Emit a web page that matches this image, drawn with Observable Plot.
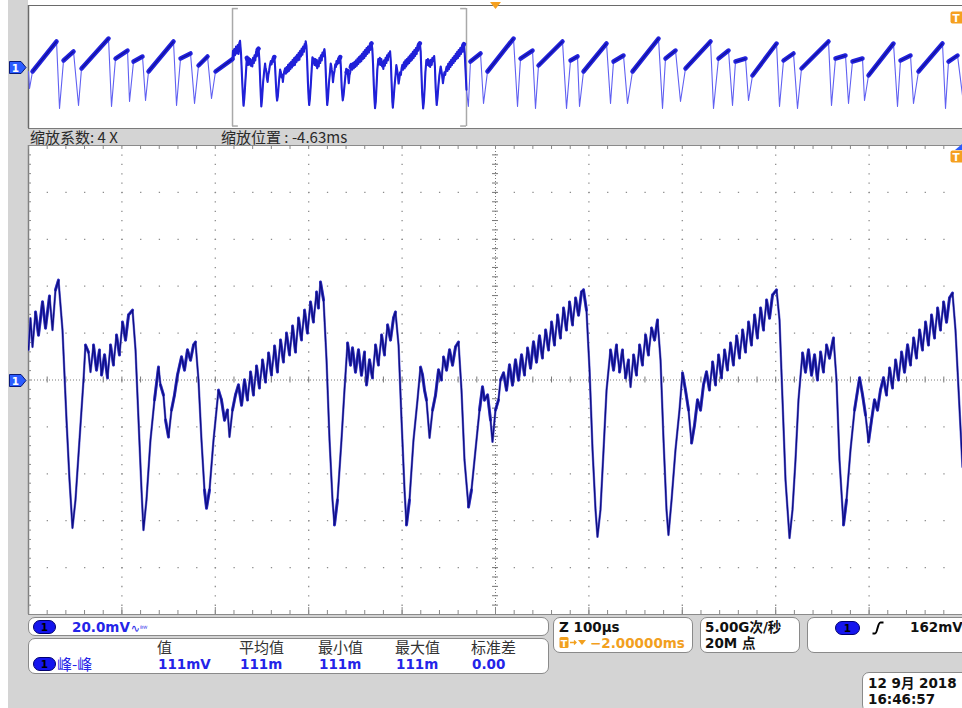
<!DOCTYPE html>
<html><head><meta charset="utf-8">
<script src="https://cdn.jsdelivr.net/npm/d3@7"></script>
<script src="https://cdn.jsdelivr.net/npm/@observablehq/plot@0.6"></script>
<style>
body{margin:0;background:#fff;}
#scr{position:relative;width:962px;height:708px;overflow:hidden;background:#fff;font-family:"DejaVu Sans","Noto Sans CJK SC",sans-serif;}
.abs{position:absolute;}
.panel{position:absolute;background:#fff;border:1px solid #8a8a8a;border-radius:7px;box-sizing:border-box;}
.t{position:absolute;white-space:nowrap;font-size:13.5px;font-weight:bold;line-height:15px;color:#111;}
.blue{color:#2424e8;}
.org{color:#f2a01e;}
.cjk{font-family:"Noto Sans CJK SC",sans-serif;font-weight:normal;font-size:15px;line-height:16px;color:#333;}
.pill{position:absolute;width:21px;height:12px;border-radius:7px;background:#1515ee;border:1px solid #000070;color:#000;font-size:10.5px;font-weight:bold;text-align:center;line-height:12px;font-family:"DejaVu Sans",sans-serif;}
</style></head>
<body><div id="scr">
<div class="abs" style="left:8px;top:0;width:954px;height:708px;background:#d4d4d4"></div>
<div class="abs" style="left:28px;top:0;width:934px;height:128px;background:#fff"></div>
<div id="ov" class="abs" style="left:0;top:0"></div>
<div id="main" class="abs" style="left:0;top:140px"></div>
<div id="overlay"></div>
</div>
<script>
// ---------------- data ----------------
// main window: time (µs from left edge of the 1 ms window), voltage (mV)
const mainTime = [0,2.1,4.3,7.5,10.7,15.0,18.2,22.5,25.7,28.9,32.1,
36.4,40.7,43.9,47.1,50.3,54.6,58.9,61.0,
64.2,66.4,69.6,72.8,76.0,78.2,81.4,84.6,87.8,91.0,94.2,97.4,100.6,103.9,107.1,111.4,
114.6,117.8,121.0,123.1,126.3,130.6,134.9,139.2,
141.3,144.5,146.7,149.9,153.1,156.3,159.5,163.8,
167.0,170.2,173.5,176.7,178.8,
182.0,185.2,188.4,190.6,193.8,198.1,203.4,
206.6,209.9,213.1,215.2,218.4,221.6,
224.8,228.1,231.3,234.5,237.7,240.9,244.1,247.3,250.5,253.8,257.0,260.2,263.4,266.6,269.8,273.0,276.2,279.5,282.7,285.9,289.1,292.3,295.5,298.7,301.9,305.1,308.4,310.5,312.6,
315.9,319.1,322.3,325.5,327.6,330.8,335.1,338.3,341.6,
344.8,346.9,350.1,353.3,356.5,359.8,361.9,365.1,368.3,371.5,374.7,378.0,381.2,384.4,387.6,390.8,392.9,
396.2,399.4,402.6,404.7,407.9,412.2,416.5,419.7,
421.9,424.0,426.1,429.4,432.6,435.8,439.0,442.2,444.3,447.6,450.8,454.0,457.2,460.4,
463.6,466.8,471.1,474.3,478.6,482.9,486.1,
488.2,491.5,494.7,496.8,500.0,503.2,505.4,
508.6,511.8,515.0,518.2,521.4,524.6,527.9,531.1,534.3,537.5,540.7,543.9,547.1,550.3,553.6,556.8,560.0,563.2,566.4,569.6,572.8,576.0,579.2,582.5,585.7,588.9,592.1,594.2,
597.4,600.7,603.9,607.1,609.2,612.4,615.7,618.9,623.1,
626.4,629.6,632.8,636.0,639.2,642.4,644.6,647.8,651.0,654.2,657.4,660.6,663.8,667.0,670.3,673.5,
676.7,679.9,683.1,685.2,688.5,692.7,697.0,700.2,
703.4,706.7,709.9,713.1,716.3,719.5,722.7,
725.9,729.1,732.4,735.6,738.8,742.0,745.2,748.4,751.6,754.8,758.1,761.3,764.5,767.7,770.9,774.1,777.3,780.5,783.8,787.0,790.2,793.4,796.6,800.9,
804.1,807.3,810.5,814.8,818.0,821.2,824.4,828.7,
831.9,835.1,838.4,841.6,844.8,848.0,851.2,854.4,857.6,861.9,
865.1,868.3,872.6,875.8,880.1,884.4,889.8,
893.0,896.2,899.4,902.6,905.8,909.0,912.2,
915.4,918.7,921.9,925.1,928.3,931.5,934.7,937.9,941.2,944.4,947.6,950.8,954.0,957.2,960.4,963.6,966.8,970.1,973.3,976.5,979.7,982.9,986.1,989.3,
992.5,995.8,1000];
const mainVolt = [12.8,26.4,14.1,29.0,19.2,33.3,22.2,35.8,21.3,38.4,42.6,
21.3,-17.1,-42.6,-63.1,-51.2,-25.6,0,14.9,
11.9,3.4,14.9,4.3,12.8,2.1,10.7,0.9,14.9,6.4,19.2,10.7,24.7,17.1,27.7,29.8,
12.8,-17.1,-46.9,-64.0,-51.2,-25.6,-8.5,5.5,
-2.1,-6.4,-17.1,-24.3,-12.8,-6.4,2.1,9.8,
4.3,12.8,8.5,14.9,16.2,
0,-25.6,-46.9,-54.6,-46.9,-25.6,-4.3,
-8.5,-17.1,-12.8,-24.3,-12.8,-6.4,
-2.1,-10.7,0,-8.5,3.4,-6.4,6.0,-3.4,8.5,-0.9,11.5,2.1,14.5,3.4,17.1,7.7,20.0,10.7,23.0,11.9,26.4,17.1,29.8,20.0,33.3,24.7,37.5,30.7,41.8,
34.1,8.5,-25.6,-51.2,-61.8,-51.2,-25.6,-4.3,15.8,
6.4,13.6,3.4,12.8,2.1,11.9,-2.1,8.5,0.9,14.9,6.4,19.2,10.7,23.5,17.1,26.4,29.0,
14.9,-17.1,-46.9,-61.8,-51.2,-25.6,-8.5,5.5,
2.1,-4.3,-8.5,-24.7,-12.8,-6.4,4.3,0,9.8,4.3,12.8,6.4,14.1,16.2,
-4.3,-34.1,-54.2,-46.9,-29.8,-12.8,-3.0,
-8.5,-6.4,-17.1,-26.4,-12.8,-8.5,0,
3.0,-4.3,6.4,-2.1,8.5,0,10.7,2.1,13.6,5.1,16.2,7.7,18.8,9.4,21.3,12.8,24.7,14.9,27.7,17.9,30.7,21.3,33.3,23.5,35.0,27.7,37.5,38.4,
29.8,4.3,-29.8,-55.4,-66.9,-55.4,-29.8,-4.3,12.8,
4.3,14.9,3.4,12.8,0.9,8.5,-3.0,10.7,2.1,14.9,6.4,19.2,10.7,22.2,17.1,25.6,
8.5,-25.6,-55.4,-66.1,-51.2,-29.8,-12.8,3.0,
-4.3,-12.8,-26.9,-19.2,-8.5,-12.8,-2.1,
3.4,-4.3,7.7,-2.1,10.7,0.9,12.8,4.3,15.8,6.4,18.8,9.4,21.3,11.9,24.7,14.9,27.7,17.9,30.7,21.3,34.1,26.4,36.2,38.4,
25.6,-8.5,-42.6,-67.4,-55.4,-34.1,-8.5,11.5,
3.4,12.8,2.1,10.7,0,11.9,3.4,14.9,9.4,17.9,
0,-34.1,-61.8,-51.2,-29.8,-12.8,0.9,
-6.4,-14.9,-26.4,-17.1,-8.5,-12.8,-4.3,
0.9,-6.4,5.1,-3.4,8.5,0,11.9,3.4,14.9,6.4,17.9,9.4,21.3,12.8,24.7,14.9,27.7,17.9,30.7,21.3,33.3,24.7,35.0,37.1,
21.3,-4.3,-37.1];

// overview (4 ms record), outside the zoomed window
const ovPreTime = [-871.9,-867.6,-854.8,-752.2,-739.4,-722.3,-679.6,-658.2,-645.4,-530.0,-517.2,-500.1,-448.8,-440.2,-423.1,-384.7,-371.8,-359.0,-252.2,-239.3,-222.2,-179.5,-162.4,-145.3,-106.9,-89.8,-72.7];
const ovPreVolt = [-7.3,-35.0,-7.3,41.5,-67.5,10.6,25.2,-62.6,-2.4,46.3,-64.2,13.8,26.8,-56.1,8.9,17.1,-54.5,-7.3,41.5,-62.6,13.8,22.0,-59.3,2.4,17.1,-51.2,-7.3];
const ovPostTime = [1008,1017,1060,1072.8,1089.9,1201.0,1218.1,1230.9,1282.2,1295.0,1307.8,1410.4,1427.5,1444.6,1474.5,1483.1,1500.2,1598.5,1615.6,1628.4,1671.1,1688.2,1709.6,1820.7,1837.8,1850.6,1893.4,1914.7,1936.1,2043.0,2055.8,2077.2,2119.9,2137.0,2149.8,2192.6,2205.4,2222.5,2325.1,2337.9,2355.0,2397.7,2414.8,2431.9,2547.3,2560.1,2577.2,2619.9,2632.8,2649.9,2692.6,2701.2,2718.3,2825.1,2842.2,2855.0,2897.8,2910.6,2931.9,3034.5,3047.4,3060.2,3098.7,3120.0];
const ovPostVolt = [-64.2,8.9,22.0,-59.3,-7.3,46.3,-64.2,13.8,26.8,-67.5,2.4,41.5,-67.5,10.6,17.1,-64.2,-7.3,38.2,-59.3,8.9,18.7,-59.3,-7.3,46.3,-67.5,13.8,26.8,-56.1,-2.4,41.5,-67.5,13.8,26.8,-62.6,8.9,13.8,-54.5,-13.8,38.2,-64.2,10.6,22.0,-67.5,-2.4,41.5,-62.6,13.8,18.7,-59.3,8.9,13.8,-54.5,-13.8,38.2,-64.2,10.6,18.7,-59.3,-7.3,38.2,-67.5,8.9,18.7,-46.3];

const timeDivs = [0,100,200,300,400,500,600,700,800,900,1000];   // 100 µs/div
const voltDivs = [-100,-80,-60,-40,-20,0,20,40,60,80,100];       // 20 mV/div
const zoomWindow = [0, 1000];
const ovDomain = [-872, 3120];
const triggerTime = 1124;

const measHeaders = ["值","平均值","最小值","最大值","标准差"];
const measValues = ["111mV","111m","111m","111m","0.00"];
const chLabel = "20.0mV";
const measName = "峰-峰";
const timebase = "Z 100µs";
const delayText = "−2.00000ms";
const sampleRate = "5.00G次/秒";
const recordLen = "20M 点";
const trigLevel = "162mV";
const dateText = "12 9月  2018";
const timeText = "16:46:57";
const zoomFactor = "缩放系数: 4 X";
const zoomPos = "缩放位置 : -4.63ms";

// ---------------- build ----------------
const mainData = mainTime.map((t, i) => ({t, v: mainVolt[i]})).filter(d => d.v !== undefined);
const ovData = [
  ...ovPreTime.map((t, i) => ({t, v: ovPreVolt[i]})),
  ...mainData,
  ...ovPostTime.map((t, i) => ({t, v: ovPostVolt[i]}))
];

const xMinor = d3.range(timeDivs[0], timeDivs[timeDivs.length-1] + 1, 20);
const yMinor = d3.range(voltDivs[0], voltDivs[voltDivs.length-1] + 1, 4);
const GRID = "#8c8c8c";

// main-window segments: fast edges thin, slow (rippled) parts heavy
const mPxT = 934 / 1000, mPxV = 469 / 200;
const mainSlow = [];
for (let i = 1; i < mainData.length; i++) {
  const a = mainData[i-1], b = mainData[i];
  const dx = (b.t - a.t) * mPxT, dy = Math.abs(b.v - a.v) * mPxV;
  if (dy / dx < 9) mainSlow.push({t1: a.t, v1: a.v, t2: b.t, v2: b.v});
}

const mainPlot = Plot.plot({
  width: 962, height: 480, marginLeft: 28, marginRight: 0, marginTop: 5, marginBottom: 6,
  x: {domain: [0, 1000], axis: null},
  y: {domain: [-100, 100], axis: null},
  style: {background: "transparent", overflow: "visible"},
  marks: [
    Plot.frame({fill: "#fff", stroke: null}),
    Plot.ruleX(timeDivs.filter(t => t > 0 && t < 1000 && t !== 500), {stroke: GRID, strokeWidth: 1.3, strokeDasharray: "1.3,8.08"}),
    Plot.ruleY(voltDivs.filter(v => v > -100 && v < 100 && v !== 0), {stroke: GRID, strokeWidth: 1.3, strokeDasharray: "1.3,17.38"}),
    Plot.ruleX([500], {stroke: "#7a7a7a", strokeDasharray: "1,2"}),
    Plot.ruleY([0], {stroke: "#7a7a7a", strokeDasharray: "1,2"}),
    // ticks on the centre axes
    Plot.ruleY(yMinor, {x1: 500, x2: 500, insetLeft: -3, insetRight: -3, stroke: "#777"}),
    Plot.ruleX(xMinor, {y1: 0, y2: 0, insetTop: -3, insetBottom: -3, stroke: "#777"}),
    // edges
    Plot.ruleX([0], {stroke: "#808080", strokeWidth: 1.5}),
    Plot.ruleY([100, -100], {stroke: "#8a8a8a", strokeWidth: 1}),
    Plot.ruleY(yMinor, {x1: 0, x2: 0, insetLeft: 0, insetRight: -3, stroke: "#888"}),
    Plot.ruleX(xMinor, {y1: 100, y2: 100, insetTop: 0, insetBottom: -4, stroke: "#888"}),
    Plot.ruleX(xMinor, {y1: -100, y2: -100, insetTop: -4, insetBottom: 0, stroke: "#888"}),
    Plot.ruleX(timeDivs, {y1: -100, y2: -100, insetTop: -7, insetBottom: 0, stroke: "#888"}),
    // waveform
    Plot.line(mainData, {x: "t", y: "v", stroke: "#7c7cdc", strokeWidth: 2.4, clip: true}),
    Plot.link(mainSlow, {x1: "t1", y1: "v1", x2: "t2", y2: "v2", stroke: "#3434c4", strokeWidth: 3, strokeLinecap: "round", clip: true}),
    Plot.line(mainData, {x: "t", y: "v", stroke: "#0e0e86", strokeWidth: 1.4, clip: true})
  ]
});
document.getElementById("main").appendChild(mainPlot);

// overview
const ovW = 934, ovH = 123;
const pxT = ovW / (ovDomain[1] - ovDomain[0]), pxV = ovH / 200;
const slowSegs = [];
for (let i = 1; i < ovData.length; i++) {
  const a = ovData[i-1], b = ovData[i];
  const dx = (b.t - a.t) * pxT, dy = Math.abs(b.v - a.v) * pxV;
  if (dx > 0 && dy / dx < 2.5) slowSegs.push({t1: a.t, v1: a.v, t2: b.t, v2: b.v});
}
const serif = 25;
const ovPlot = Plot.plot({
  width: 962, height: 128, marginLeft: 28, marginRight: 0, marginTop: 5, marginBottom: 0,
  x: {domain: ovDomain, axis: null},
  y: {domain: [-100, 100], axis: null},
  style: {background: "transparent", overflow: "visible"},
  marks: [
    Plot.ruleY([100], {stroke: "#6a6a6a", strokeWidth: 1.2}),
    Plot.ruleY([-100], {stroke: "#7a7a7a", strokeWidth: 1}),
    Plot.ruleX([ovDomain[0]], {stroke: "#6a6a6a", strokeWidth: 1.5}),
    Plot.ruleX(zoomWindow, {stroke: "#a9a9a9", strokeWidth: 1.5, insetTop: 3, insetBottom: 2}),
    Plot.ruleY([95, -96], {x1: zoomWindow[0], x2: zoomWindow[0] + serif, stroke: "#a9a9a9", strokeWidth: 1.5}),
    Plot.ruleY([95, -96], {x1: zoomWindow[1] - serif, x2: zoomWindow[1], stroke: "#a9a9a9", strokeWidth: 1.5}),
    Plot.line(ovData, {x: "t", y: "v", stroke: "#6060f2", strokeWidth: 1.1, clip: true}),
    Plot.link(slowSegs, {x1: "t1", y1: "v1", x2: "t2", y2: "v2", stroke: "#2222dc", strokeWidth: 4.5, strokeLinecap: "round", clip: true}),
    Plot.link(slowSegs, {x1: "t1", y1: "v1", x2: "t2", y2: "v2", stroke: "#0c0c8a", strokeWidth: 1.3, strokeOpacity: 0.75, clip: true}),
    Plot.line(mainData, {x: "t", y: "v", stroke: "#2020d8", strokeWidth: 2.1})
  ]
});
document.getElementById("ov").appendChild(ovPlot);

// ---------------- overlay (panels, labels, markers) ----------------
const trigX = 28 + (triggerTime - ovDomain[0]) * pxT;
const badge = (top) => `<svg class="abs" style="left:9px;top:${top}px" width="18" height="13"><polygon points="0.5,0.5 12,0.5 17,6.5 12,12.5 0.5,12.5" fill="#2b5cff" stroke="#0a1a7a"/><text x="6.5" y="10.5" font-family="DejaVu Sans" font-weight="bold" font-size="10.5" fill="#fff" text-anchor="middle">1</text></svg>`;
const tBadge = (top) => `<svg class="abs" style="left:950px;top:${top}px" width="14" height="13"><rect x="0.5" y="0.5" width="13" height="12" rx="2" fill="#f5a020"/><text x="6" y="10.5" font-family="DejaVu Sans" font-weight="bold" font-size="10.5" fill="#fff" text-anchor="middle">T</text></svg>`;
const measX = [157, 239, 318, 395, 471];
let html = "";
html += badge(61) + badge(374);
html += tBadge(11) + tBadge(150);
html += `<svg class="abs" style="left:${trigX - 5}px;top:2px" width="11" height="8"><polygon points="0,0 11,0 5.5,7" fill="#f5a020"/></svg>`;
html += `<svg class="abs" style="left:955px;top:144px" width="8" height="6"><polygon points="7,0 7,6 0,6" fill="#2b5cff"/></svg>`;
html += `<div class="t cjk" style="left:30px;top:129px;color:#2a2a2a">${zoomFactor}</div>`;
html += `<div class="t cjk" style="left:221px;top:129px;color:#2a2a2a">${zoomPos}</div>`;
// panels
html += `<div class="panel" style="left:28px;top:617px;width:521px;height:19px"></div>`;
html += `<div class="panel" style="left:28px;top:638px;width:521px;height:36px"></div>`;
html += `<div class="panel" style="left:553px;top:617px;width:140px;height:36px"></div>`;
html += `<div class="panel" style="left:700px;top:617px;width:100px;height:36px"></div>`;
html += `<div class="panel" style="left:807px;top:617px;width:170px;height:36px"></div>`;
html += `<div class="panel" style="left:862px;top:672px;width:110px;height:40px"></div>`;
html += `<div class="pill" style="left:33px;top:620px">1</div>`;
html += `<div class="t blue" style="left:72px;top:620px">${chLabel}<span style="font-size:11px;font-weight:normal;margin-left:1px">∿</span><span style="font-size:7px;font-weight:normal;vertical-align:1px">ᴮᵂ</span></div>`;
html += `<div class="pill" style="left:33px;top:657px">1</div>`;
html += `<div class="t cjk blue" style="left:57px;top:656px;color:#2424e8">${measName}</div>`;
measHeaders.forEach((h, i) => { html += `<div class="t cjk" style="left:${measX[i]}px;top:639px">${h}</div>`; });
measValues.forEach((v, i) => { html += `<div class="t blue" style="left:${measX[i] + 1}px;top:657px">${v}</div>`; });
html += `<div class="t" style="left:559px;top:620px">${timebase}</div>`;
html += `<svg class="abs" style="left:559px;top:636px" width="30" height="14"><rect x="0.5" y="1" width="9" height="11" rx="1.5" fill="#f2a01e"/><text x="5" y="10.5" font-family="DejaVu Sans" font-weight="bold" font-size="9.5" fill="#fff" text-anchor="middle">T</text><path d="M11,6.5 H17 M15,4.5 L17,6.5 L15,8.5" stroke="#f2a01e" stroke-width="1.3" fill="none"/><polygon points="19,4 27,4 23,9" fill="#f2a01e"/></svg>`;
html += `<div class="t org" style="left:590px;top:636px">${delayText}</div>`;
html += `<div class="t" style="left:705px;top:620px">${sampleRate}</div>`;
html += `<div class="t" style="left:705px;top:636px">${recordLen}</div>`;
html += `<div class="pill" style="left:835px;top:621px;width:23px">1</div>`;
html += `<svg class="abs" style="left:871px;top:621px" width="14" height="14"><path d="M1.5,12.5 H4 C6.5,12.5 6.5,1.5 9.5,1.5 H12.5" stroke="#000" stroke-width="2" fill="none"/></svg>`;
html += `<div class="t" style="left:910px;top:620px">${trigLevel}</div>`;
html += `<div class="t" style="left:868px;top:676px">${dateText}</div>`;
html += `<div class="t" style="left:868px;top:692px">${timeText}</div>`;
document.getElementById("overlay").innerHTML = html;
</script>
</body></html>
